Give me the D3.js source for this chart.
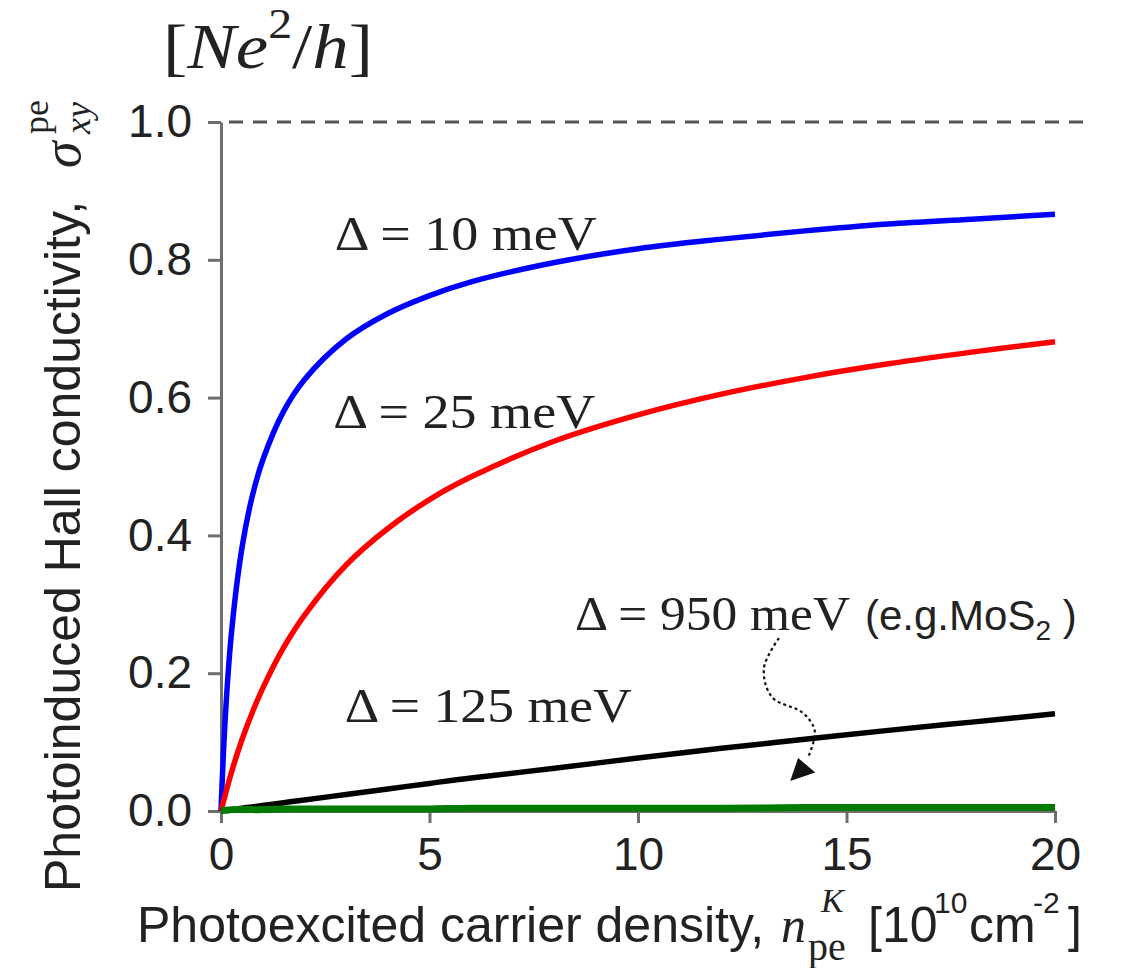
<!DOCTYPE html>
<html>
<head>
<meta charset="utf-8">
<script src="https://cdn.jsdelivr.net/npm/d3@7"></script>
<style>
  html, body { margin: 0; padding: 0; background: #fff; }
  svg { display: block; }
</style>
</head>
<body>
<script>
// Photoexcited carrier density n_pe^K in units of 10^10 cm^-2
const densities = [0, 0.1, 0.25, 0.5, 0.75, 1, 1.5, 2, 3, 4, 5, 6, 8, 10, 12, 14, 16, 18, 20];

// Photoinduced Hall conductivity sigma_xy^pe in units of N e^2 / h, one series per gap
const sigmaGap10  = [0, 0.133, 0.258, 0.381, 0.457, 0.509, 0.580, 0.626, 0.685, 0.722, 0.748, 0.768, 0.796, 0.816, 0.830, 0.842, 0.852, 0.859, 0.866];
const sigmaGap25  = [0, 0.023, 0.056, 0.103, 0.143, 0.178, 0.237, 0.284, 0.357, 0.410, 0.452, 0.485, 0.537, 0.575, 0.605, 0.629, 0.649, 0.666, 0.681];
const sigmaGap125 = [0, 0.001, 0.002, 0.004, 0.006, 0.008, 0.012, 0.016, 0.024, 0.032, 0.040, 0.048, 0.062, 0.077, 0.091, 0.104, 0.117, 0.129, 0.141];
const sigmaGap950 = [0.001, 0.001, 0.002, 0.002, 0.002, 0.002, 0.003, 0.003, 0.003, 0.003, 0.003, 0.004, 0.004, 0.004, 0.004, 0.005, 0.005, 0.005, 0.005];

const gapValues = [10, 25, 125, 950];
const seriesColors = ["#0000ff", "#ff0000", "#000000", "#007a00"];
const seriesWidths = [5.5, 5.5, 5.5, 7];

const xTickValues = [0, 5, 10, 15, 20];
const yTickValues = [0, 0.2, 0.4, 0.6, 0.8, 1.0];

// Gap labels: anchor in data units, width in px
const gapLabelAnchors = [
  { n: 2.73, s: 0.814, width: 262 },
  { n: 2.69, s: 0.556, width: 262 },
  { n: 2.97, s: 0.129, width: 287 },
  { n: 8.49, s: 0.263, width: 275 }
];

// Dotted pointer from the 950 meV label to its curve (data units)
const pointerPath = [[13.38, 0.251], [13.02, 0.2075], [13.21, 0.1655], [13.96, 0.142], [14.24, 0.116], [14.08, 0.078]];
const pointerHead = [[13.65, 0.0435], [13.84, 0.077], [14.25, 0.056]];

const W = 1148, H = 968;
const svg = d3.select("body").append("svg").attr("width", W).attr("height", H);

const x = d3.scaleLinear().domain([0, 20]).range([221, 1055]);
const y = d3.scaleLinear().domain([0, 1]).range([811, 122]);

const axisGray = "#6e6e6e";
const inkColor = "#222";
const sans = "'Liberation Sans', Arial, sans-serif";
const serif = "'Liberation Serif', 'Times New Roman', serif";

// dashed quantized limit at sigma = 1
svg.append("line")
  .attr("x1", x(0)).attr("x2", x(20.72))
  .attr("y1", y(1)).attr("y2", y(1))
  .attr("stroke", "#555").attr("stroke-width", 3)
  .attr("stroke-dasharray", "14,10")
  .attr("stroke-dashoffset", -8);

// y axis
const yAxis = d3.axisLeft(y).tickValues(yTickValues).tickSize(13).tickSizeOuter(0)
  .tickFormat(d3.format(".1f")).tickPadding(16);
const gy = svg.append("g").attr("transform", `translate(${x(0)},0)`).call(yAxis);
gy.select(".domain").attr("stroke", axisGray).attr("stroke-width", 3);
gy.selectAll(".tick line").attr("stroke", axisGray).attr("stroke-width", 3);
gy.selectAll(".tick text").attr("fill", inkColor).attr("font-size", 46);

// x axis
const xAxis = d3.axisBottom(x).tickValues(xTickValues).tickSize(12).tickSizeOuter(0)
  .tickFormat(d3.format("d")).tickPadding(14);
const gx = svg.append("g").attr("transform", `translate(0,${y(0)})`).call(xAxis);
gx.select(".domain").attr("stroke", axisGray).attr("stroke-width", 3);
gx.selectAll(".tick line").attr("stroke", axisGray).attr("stroke-width", 3);
gx.selectAll(".tick text").attr("fill", inkColor).attr("font-size", 46);
svg.selectAll(".tick text").attr("font-family", sans);

// conductivity curves
const allSeries = [sigmaGap10, sigmaGap25, sigmaGap125, sigmaGap950];
const line = d3.line()
  .x(d => x(d[0]))
  .y(d => y(d[1]))
  .curve(d3.curveCatmullRom.alpha(0.5));

allSeries.forEach((values, i) => {
  svg.append("path")
    .datum(densities.map((n, k) => [n, values[k]]))
    .attr("fill", "none")
    .attr("stroke", seriesColors[i])
    .attr("stroke-width", seriesWidths[i])
    .attr("stroke-linejoin", "round")
    .attr("stroke-linecap", "butt")
    .attr("d", line);
});

// gap labels
gapLabelAnchors.forEach((a, i) => {
  svg.append("text")
    .attr("x", x(a.n)).attr("y", y(a.s))
    .attr("font-family", serif).attr("font-size", 48).attr("fill", inkColor)
    .attr("textLength", a.width).attr("lengthAdjust", "spacingAndGlyphs")
    .text(`\u0394 = ${gapValues[i]} meV`);
});

// material note beside the 950 meV label
const note = svg.append("text")
  .attr("x", 865).attr("y", 630)
  .attr("font-family", sans).attr("font-size", 42).attr("fill", inkColor);
note.append("tspan").text("(e.g.MoS");
note.append("tspan").attr("font-size", 28).attr("dy", 10).text("2");
note.append("tspan").attr("dy", -10).text(" )");

// dotted pointer with a filled head
svg.append("path")
  .attr("d", d3.line().x(d => x(d[0])).y(d => y(d[1])).curve(d3.curveCatmullRom)(pointerPath))
  .attr("fill", "none").attr("stroke", "#111").attr("stroke-width", 2.2)
  .attr("stroke-dasharray", "3,3");
svg.append("path")
  .attr("d", "M" + pointerHead.map(p => [x(p[0]), y(p[1])].join(",")).join("L") + "Z")
  .attr("fill", "#111");

// unit above the y axis
const unit = svg.append("text")
  .attr("x", 163).attr("y", 68)
  .attr("font-family", serif).attr("font-size", 64).attr("fill", inkColor)
  .attr("textLength", 210).attr("lengthAdjust", "spacingAndGlyphs");
unit.append("tspan").text("[");
unit.append("tspan").attr("font-style", "italic").text("Ne");
unit.append("tspan").attr("font-size", 42).attr("dy", -30).text("2");
unit.append("tspan").attr("dy", 30).text("/");
unit.append("tspan").attr("font-style", "italic").text("h");
unit.append("tspan").text("]");

// y axis title (rotated)
const yt = svg.append("g").attr("transform", "translate(80,892) rotate(-90)").attr("fill", inkColor);
yt.append("text").attr("x", 0).attr("y", 0)
  .attr("font-family", sans).attr("font-size", 50)
  .text("Photoinduced Hall conductivity,");
yt.append("text").attr("x", 724).attr("y", 0)
  .attr("font-family", serif).attr("font-style", "italic").attr("font-size", 54)
  .text("\u03C3");
yt.append("text").attr("x", 758).attr("y", 10)
  .attr("font-family", serif).attr("font-style", "italic").attr("font-size", 36)
  .text("xy");
yt.append("text").attr("x", 758).attr("y", -32)
  .attr("font-family", serif).attr("font-size", 36)
  .text("pe");

// x axis title
const xt = svg.append("g").attr("fill", inkColor);
xt.append("text").attr("x", 137).attr("y", 942)
  .attr("font-family", sans).attr("font-size", 50)
  .text("Photoexcited carrier density,");
xt.append("text").attr("x", 781).attr("y", 942)
  .attr("font-family", serif).attr("font-style", "italic").attr("font-size", 50).text("n");
xt.append("text").attr("x", 821).attr("y", 912)
  .attr("font-family", serif).attr("font-style", "italic").attr("font-size", 34).text("K");
xt.append("text").attr("x", 808).attr("y", 960)
  .attr("font-family", serif).attr("font-size", 40).text("pe");
xt.append("text").attr("x", 868).attr("y", 942)
  .attr("font-family", sans).attr("font-size", 50).text("[10");
xt.append("text").attr("x", 934).attr("y", 913)
  .attr("font-family", sans).attr("font-size", 30).text("10");
xt.append("text").attr("x", 969).attr("y", 942)
  .attr("font-family", sans).attr("font-size", 50).text("cm");
xt.append("text").attr("x", 1033).attr("y", 913)
  .attr("font-family", sans).attr("font-size", 30).text("-2");
xt.append("text").attr("x", 1068).attr("y", 942)
  .attr("font-family", sans).attr("font-size", 50).text("]");
</script>
</body>
</html>
